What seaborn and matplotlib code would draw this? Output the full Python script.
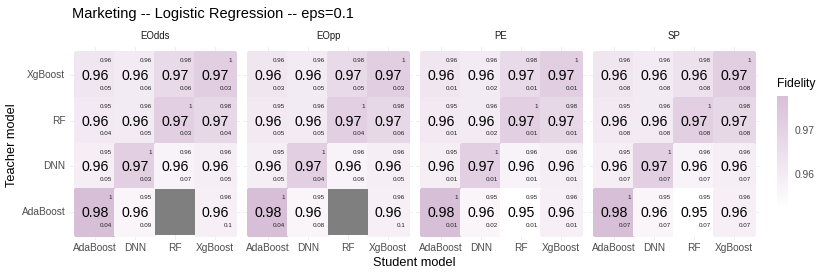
import numpy as np
import pandas as pd
import seaborn as sns
import matplotlib.pyplot as plt
from matplotlib.colors import LinearSegmentedColormap, ListedColormap

nan = np.nan

teachers = ["XgBoost", "RF", "DNN", "AdaBoost"]
students = ["AdaBoost", "DNN", "RF", "XgBoost"]
metrics = ["EOdds", "EOpp", "PE", "SP"]

# fidelity (fill + big label), rows = teacher, cols = student
fid_eodds = [[0.962, 0.960, 0.967, 0.972],
             [0.961, 0.960, 0.971, 0.968],
             [0.959, 0.971, 0.957, 0.959],
             [0.978, 0.956, nan, 0.958]]
fid_eopp = [[0.962, 0.960, 0.967, 0.972],
            [0.961, 0.960, 0.971, 0.968],
            [0.959, 0.971, 0.957, 0.959],
            [0.978, 0.956, nan, 0.958]]
fid_pe = [[0.962, 0.960, 0.967, 0.972],
          [0.961, 0.960, 0.971, 0.968],
          [0.959, 0.971, 0.957, 0.959],
          [0.978, 0.956, 0.952, 0.958]]
fid_sp = [[0.962, 0.960, 0.964, 0.972],
          [0.961, 0.960, 0.971, 0.968],
          [0.959, 0.971, 0.957, 0.959],
          [0.978, 0.956, 0.952, 0.958]]

# small label at top right of each cell
top_eodds = [[0.96, 0.96, 0.98, 1], [0.95, 0.96, 1, 0.98], [0.95, 1, 0.96, 0.96], [1, 0.95, nan, 0.96]]
top_eopp = [[0.96, 0.96, 0.98, 1], [0.95, 0.96, 1, 0.98], [0.95, 1, 0.96, 0.96], [1, 0.95, nan, 0.96]]
top_pe = [[0.96, 0.96, 0.98, 1], [0.95, 0.96, 1, 0.98], [0.95, 1, 0.96, 0.96], [1, 0.95, 0.95, 0.96]]
top_sp = [[0.96, 0.96, 0.98, 1], [0.95, 0.96, 1, 0.98], [0.95, 1, 0.96, 0.96], [1, 0.95, 0.95, 0.96]]

# small label at bottom right of each cell
bot_eodds = [[0.05, 0.06, 0.06, 0.03], [0.04, 0.05, 0.03, 0.04], [0.05, 0.03, 0.07, 0.05], [0.04, 0.09, nan, 0.1]]
bot_eopp = [[0.03, 0.05, 0.05, 0.03], [0.05, 0.05, 0.04, 0.06], [0.05, 0.04, 0.06, 0.05], [0.04, 0.08, nan, 0.1]]
bot_pe = [[0.01, 0.02, 0.01, 0.01], [0.01, 0.02, 0.01, 0.01], [0.01, 0.01, 0.01, 0.01], [0.01, 0.02, 0.01, 0.01]]
bot_sp = [[0.08, 0.08, 0.08, 0.08], [0.08, 0.08, 0.08, 0.08], [0.07, 0.07, 0.07, 0.07], [0.07, 0.07, 0.07, 0.07]]

fids = [fid_eodds, fid_eopp, fid_pe, fid_sp]
tops = [top_eodds, top_eopp, top_pe, top_sp]
bots = [bot_eodds, bot_eopp, bot_pe, bot_sp]

plt.rcParams['font.family'] = ['Liberation Sans', 'DejaVu Sans']


def fmt(v):
    return f"{round(v, 2):g}"


W, H = 830, 277
fig = plt.figure(figsize=(W / 100, H / 100), dpi=100)

cmap = LinearSegmentedColormap.from_list("fid", ["white", "thistle"])
na_cmap = ListedColormap(["#7f7f7f"])
vmin = np.nanmin(np.array(fids))
vmax = np.nanmax(np.array(fids))

tile_lefts = [75, 248, 421, 594]
tile_w, tile_top, tile_bot = 160, 52, 235
tile_h = tile_bot - tile_top
pad = 0.12

cax = fig.add_axes([777 / W, (H - 208) / H, 11 / W, 112 / H])

for k, name in enumerate(metrics):
    L = tile_lefts[k]
    mx = pad * tile_w / 4
    my = pad * tile_h / 4
    ax = fig.add_axes([(L - mx) / W, (H - tile_bot - my) / H,
                       (tile_w + 2 * mx) / W, (tile_h + 2 * my) / H])
    df = pd.DataFrame(fids[k], index=teachers, columns=students)
    last = k == len(metrics) - 1
    # face-coloured edges so no white seams show between tiles
    sns.heatmap(df, ax=ax, cmap=cmap, vmin=vmin, vmax=vmax,
                cbar=last, cbar_ax=cax if last else None,
                linewidths=0.8, linecolor="face")
    # missing combos drawn in grey, like ggplot's na.value
    na_df = df.isna().where(df.isna()).astype(float)
    sns.heatmap(na_df, ax=ax, cmap=na_cmap, cbar=False,
                linewidths=0, linecolor="none")

    for i in range(4):
        for j in range(4):
            v = fids[k][i][j]
            if np.isnan(v):
                continue
            ax.text(j + 0.5, i + 0.52, fmt(v), ha="center", va="center",
                    fontsize=10.2, color="black")
            ax.text(j + 0.93, i + 0.19, fmt(tops[k][i][j]), ha="right", va="center",
                    fontsize=4.5, color="#222222")
            ax.text(j + 0.93, i + 0.79, fmt(bots[k][i][j]), ha="right", va="center",
                    fontsize=4.5, color="#222222")

    ax.set_xlim(-pad, 4 + pad)
    ax.set_ylim(4 + pad, -pad)
    ax.grid(True, color="#ebebeb", linewidth=0.6)
    ax.set_axisbelow(True)
    for s in ax.spines.values():
        s.set_visible(False)
    ax.set_xlabel("")
    ax.set_ylabel("")
    ax.set_xticks(np.arange(4) + 0.5)
    ax.set_xticklabels(students, rotation=0)
    ax.set_yticks(np.arange(4) + 0.5)
    if k == 0:
        ax.set_yticklabels(teachers, rotation=0)
    else:
        ax.set_yticklabels([])
    ax.tick_params(axis="x", length=0, labelsize=7.3, labelcolor="#4d4d4d", pad=2)
    ax.tick_params(axis="y", length=0, labelsize=7.3, labelcolor="#4d4d4d", pad=3.5)

    fig.text((L + tile_w / 2) / W, 1 - 36 / H, name, ha="center", va="center",
             fontsize=6.9, color="#1a1a1a")

cax.set_yticks([0.96, 0.97])
cax.set_yticklabels(["0.96", "0.97"])
cax.tick_params(length=0, labelsize=7.4, labelcolor="#4d4d4d", pad=5)
for s in cax.spines.values():
    s.set_visible(False)
fig.text(777 / W, 1 - 84 / H, "Fidelity", ha="left", va="center", fontsize=8.7, color="black")

fig.text(72 / W, 1 - 14 / H, "Marketing -- Logistic Regression -- eps=0.1",
         ha="left", va="center", fontsize=10.5, color="black")
fig.text(414 / W, 1 - 263 / H, "Student model", ha="center", va="center", fontsize=9.2)
fig.text(12 / W, 1 - 145 / H, "Teacher model", ha="center", va="center",
         fontsize=9.2, rotation=90)

fig.savefig("out.png", dpi=100)
